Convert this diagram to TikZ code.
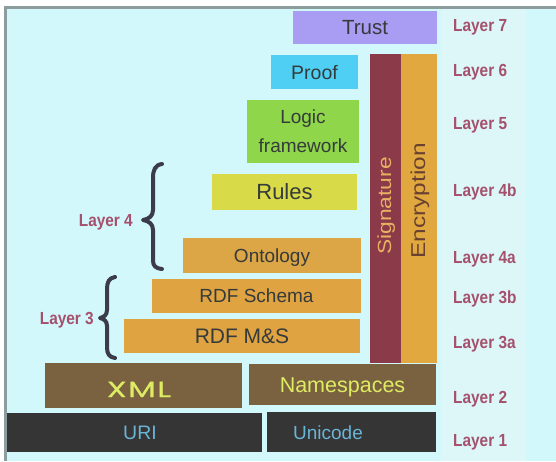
\documentclass[tikz,border=0pt]{standalone}
\usepackage{fontspec}
\usepackage{graphicx}
\setmainfont{Liberation Sans}
\newfontfamily\layfont[FakeStretch=0.88]{Liberation Sans}
\newfontfamily\xmlfont[LetterSpace=5,FakeBold=0.5]{Poppins}
\definecolor{bgc}{HTML}{D3F8FB}
\definecolor{stripc}{HTML}{DDF7F9}
\definecolor{framec}{HTML}{8D9D9D}
\definecolor{trustc}{HTML}{A89DF2}
\definecolor{proofc}{HTML}{50CFF5}
\definecolor{logicc}{HTML}{8FD64A}
\definecolor{rulesc}{HTML}{D8DA48}
\definecolor{ontoc}{HTML}{DCA646}
\definecolor{rdfc}{HTML}{DFA342}
\definecolor{sigc}{HTML}{8A3A48}
\definecolor{encc}{HTML}{E0A83E}
\definecolor{xmlc}{HTML}{7A6240}
\definecolor{uric}{HTML}{353535}
\definecolor{darktext}{HTML}{353A3A}
\definecolor{yellowtext}{HTML}{DDEC62}
\definecolor{bluetext}{HTML}{6AB4D6}
\definecolor{sigtext}{HTML}{E8B062}
\definecolor{enctext}{HTML}{6A4030}
\definecolor{layc}{HTML}{A5506C}
\definecolor{bracec}{HTML}{3B3B4A}
\begin{document}
\begin{tikzpicture}[x=1pt,y=-1pt,
  blk/.style={anchor=north west, inner sep=0pt, outer sep=0pt, text=darktext, align=center},
  laylabel/.style={font=\layfont\bfseries\fontsize{17.5}{17.5}\selectfont, text=layc, inner sep=0pt, anchor=base west},
  bracepath/.style={draw=bracec, line width=4pt, line cap=round, line join=round}]
\useasboundingbox (0,0) rectangle (556,461);
% background and frame
\fill[white] (0,0) rectangle (556,461);
\fill[bgc] (7,9) rectangle (556,461);
\fill[stripc] (441,9) rectangle (526,461);
\fill[framec] (4,6) rectangle (556,9);
\fill[framec] (4,6) rectangle (7,461);
% boxes
\node[blk, fill=trustc, minimum width=144pt, minimum height=33pt, text height=14.7pt, text depth=0pt,
  font=\fontsize{20.5}{20.5}\selectfont] (trust) at (293,11) {Trust};
\node[blk, fill=proofc, minimum width=87pt, minimum height=34pt, text height=14pt, text depth=0pt,
  font=\fontsize{19.5}{19.5}\selectfont] (proof) at (271,55) {Proof};
\node[blk, fill=logicc, minimum width=112pt, minimum height=63pt,
  font=\fontsize{19}{29}\selectfont] (logic) at (247,100) {Logic\\framework};
\node[blk, fill=rulesc, minimum width=145pt, minimum height=36pt, text height=15.8pt, text depth=0pt,
  font=\fontsize{22}{22}\selectfont] (rules) at (212,174) {Rules};
\node[blk, fill=ontoc, minimum width=178pt, minimum height=35pt, text height=13.6pt, text depth=0pt,
  font=\fontsize{19}{19}\selectfont] (onto) at (183,238) {Ontology};
\node[blk, fill=rdfc, minimum width=209pt, minimum height=34pt, text height=13.6pt, text depth=0pt,
  font=\fontsize{19}{19}\selectfont] (rdfs) at (152,279) {RDF Schema};
\node[blk, fill=rdfc, minimum width=236pt, minimum height=34pt, text height=15pt, text depth=0pt,
  font=\fontsize{21}{21}\selectfont] (rdfms) at (124,319) {RDF M\&S};
\node[blk, fill=sigc, minimum width=31pt, minimum height=309pt] (sig) at (370,54) {};
\node[blk, fill=encc, minimum width=36pt, minimum height=309pt] (enc) at (401,54) {};
\node[blk, fill=xmlc, minimum width=197pt, minimum height=45pt] (xml) at (45,363) {};
\node[blk, fill=xmlc, minimum width=187pt, minimum height=41pt, text height=15.4pt, text depth=0pt,
  text=yellowtext, font=\fontsize{21.5}{21.5}\selectfont] (ns) at (249,364) {Namespaces};
\node[blk, fill=uric, minimum width=255pt, minimum height=39pt] (uri) at (7,413) {};
\node[blk, fill=uric, minimum width=169pt, minimum height=40pt] (uni) at (267,412) {};
% texts placed separately
\node[inner sep=0pt, anchor=base, text=yellowtext, font=\xmlfont\fontsize{22}{22}\selectfont] (xmltext) at (139,397) {\scalebox{1.45}[1]{XML}};
\node[inner sep=0pt, anchor=base, text=bluetext, font=\fontsize{19.5}{19.5}\selectfont] (uritext) at (140,439) {URI};
\node[inner sep=0pt, anchor=base, text=bluetext, font=\fontsize{19}{19}\selectfont] (unitext) at (328,439) {Unicode};
\node[inner sep=0pt, anchor=base, rotate=90, text=sigtext, font=\fontsize{19}{19}\selectfont] (sigtext) at (391,206) {\scalebox{1.2}[1]{Signature}};
\node[inner sep=0pt, anchor=base, rotate=90, text=enctext, font=\fontsize{20}{20}\selectfont] (enctext) at (425,201) {\scalebox{1.22}[1]{Encryption}};
% layer labels
\node[laylabel] (l7) at (453,31) {Layer 7};
\node[laylabel] (l6) at (453,76) {Layer 6};
\node[laylabel] (l5) at (453,129) {Layer 5};
\node[laylabel] (l4b) at (453,196) {Layer 4b};
\node[laylabel] (l4a) at (453,263) {Layer 4a};
\node[laylabel] (l3b) at (453,303) {Layer 3b};
\node[laylabel] (l3a) at (453,348) {Layer 3a};
\node[laylabel] (l2) at (453,403) {Layer 2};
\node[laylabel] (l1) at (453,446) {Layer 1};
\node[laylabel, anchor=base east] (l4) at (133,226) {Layer 4};
\node[laylabel, anchor=base east] (l3) at (94,324) {Layer 3};
% braces
\draw[bracepath] (162,164) .. controls (155,165) and (153,170) .. (153,178) -- (153,210)
  .. controls (153,216) and (149,219) .. (143,220) .. controls (149,221) and (153,224) .. (153,230)
  -- (153,260) .. controls (153,266) and (155,268) .. (162,269);
\draw[bracepath] (115,277) .. controls (109,278) and (107,282) .. (107,289) -- (107,310)
  .. controls (107,315) and (104,317) .. (100,318) .. controls (104,319) and (107,321) .. (107,326)
  -- (107,347) .. controls (107,354) and (109,357) .. (115,358);
\end{tikzpicture}
\end{document}
